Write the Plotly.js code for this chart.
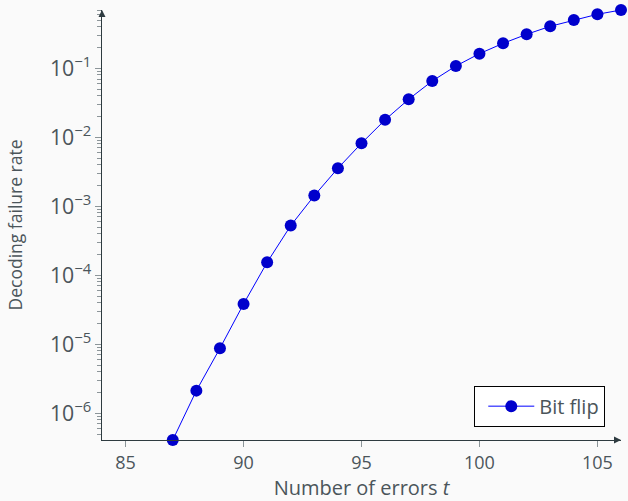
<!DOCTYPE html>
<html>
<head>
<meta charset="utf-8">
<script src="https://cdn.plot.ly/plotly-3.0.1.min.js"></script>
<style>html,body{margin:0;padding:0;background:#fafafa;}</style>
</head>
<body>
<div id="chart" style="width:628px;height:501px;"></div>
<script>
// Data
const errors = [87, 88, 89, 90, 91, 92, 93, 94, 95, 96, 97, 98, 99, 100, 101, 102, 103, 104, 105, 106];
const failureRate = [4.1e-7, 2.13e-6, 8.75e-6, 3.84e-5, 1.54e-4, 5.25e-4, 1.43e-3, 3.56e-3, 8.2e-3, 1.79e-2,
                     3.56e-2, 6.55e-2, 0.108, 0.163, 0.230, 0.311, 0.406, 0.501, 0.607, 0.700];
const seriesName = 'Bit flip';
const xTicks = [85, 90, 95, 100, 105];
const xMin = 84, xMax = 106;

const FONT = '"Open Sans", "Noto Sans", sans-serif';
const TEXT = '#4b555a';
const AXIS = '#2e3b40';
const TICK = '#8c9599';

const yRange = [Math.log10(Math.min(...failureRate)), Math.log10(Math.max(...failureRate))];

const trace = {
  x: errors, y: failureRate, name: seriesName,
  type: 'scatter', mode: 'lines+markers',
  line: {color: '#0000ff', width: 1},
  marker: {color: '#0000cc', size: 12, line: {width: 0}},
  cliponaxis: false
};

const layout = {
  width: 628, height: 501,
  margin: {l: 102.4, r: 7.3, t: 9.7, b: 61},
  paper_bgcolor: '#fafafa', plot_bgcolor: '#fafafa',
  font: {family: FONT, size: 17, color: TEXT},
  showlegend: true,
  legend: {
    x: 0.9697, y: 0.031, xanchor: 'right', yanchor: 'bottom',
    bgcolor: '#ffffff', bordercolor: '#000000', borderwidth: 1,
    font: {family: FONT, size: 20, color: TEXT}, itemwidth: 46, indentation: 8
  },
  xaxis: {
    range: [xMin, xMax], tickvals: xTicks, ticks: 'outside', ticklen: 6, tickwidth: 1, tickcolor: TICK,
    showline: true, linecolor: AXIS, linewidth: 1.4, showgrid: false, zeroline: false,
    tickfont: {family: FONT, size: 18, color: TEXT},
    title: {text: 'Number of errors <i>t</i>', font: {family: FONT, size: 20, color: TEXT}, standoff: 14}
  },
  yaxis: {
    type: 'log', range: yRange, dtick: 1, exponentformat: 'power',
    ticks: 'outside', ticklen: 6, tickwidth: 1, tickcolor: TICK,
    minor: {dtick: 'D1', ticks: 'outside', ticklen: 4, tickwidth: 1, tickcolor: TICK, showgrid: false},
    showline: true, linecolor: AXIS, linewidth: 1.4, showgrid: false, zeroline: false,
    tickfont: {family: FONT, size: 17, color: TEXT},
    title: {text: 'Decoding failure rate', font: {family: FONT, size: 17.5, color: TEXT}, standoff: 22}
  },
  xaxis2: {
    overlaying: 'x', range: [xMin, xMax], tickvals: xTicks, ticks: 'inside', ticklen: 6, tickwidth: 1,
    tickcolor: TICK, showticklabels: false, showline: false, showgrid: false, zeroline: false, side: 'bottom'
  },
  yaxis2: {
    overlaying: 'y', type: 'log', range: yRange, dtick: 1, ticks: 'inside', ticklen: 6, tickwidth: 1,
    tickcolor: TICK, showticklabels: false, showline: false, showgrid: false, zeroline: false, side: 'left',
    minor: {dtick: 'D1', ticks: 'inside', ticklen: 4, tickwidth: 1, tickcolor: TICK, showgrid: false}
  },
  annotations: [
    {xref: 'paper', yref: 'paper', x: 1.0, y: 0, ax: -8, ay: 0, text: '', showarrow: true,
     arrowhead: 2, arrowsize: 1, arrowwidth: 1.4, arrowcolor: AXIS},
    {xref: 'paper', yref: 'paper', x: 0, y: 1.0, ax: 0, ay: 8, text: '', showarrow: true,
     arrowhead: 2, arrowsize: 1, arrowwidth: 1.4, arrowcolor: AXIS}
  ]
};

Plotly.newPlot('chart', [trace], layout, {displayModeBar: false, staticPlot: true});
</script>
</body>
</html>
